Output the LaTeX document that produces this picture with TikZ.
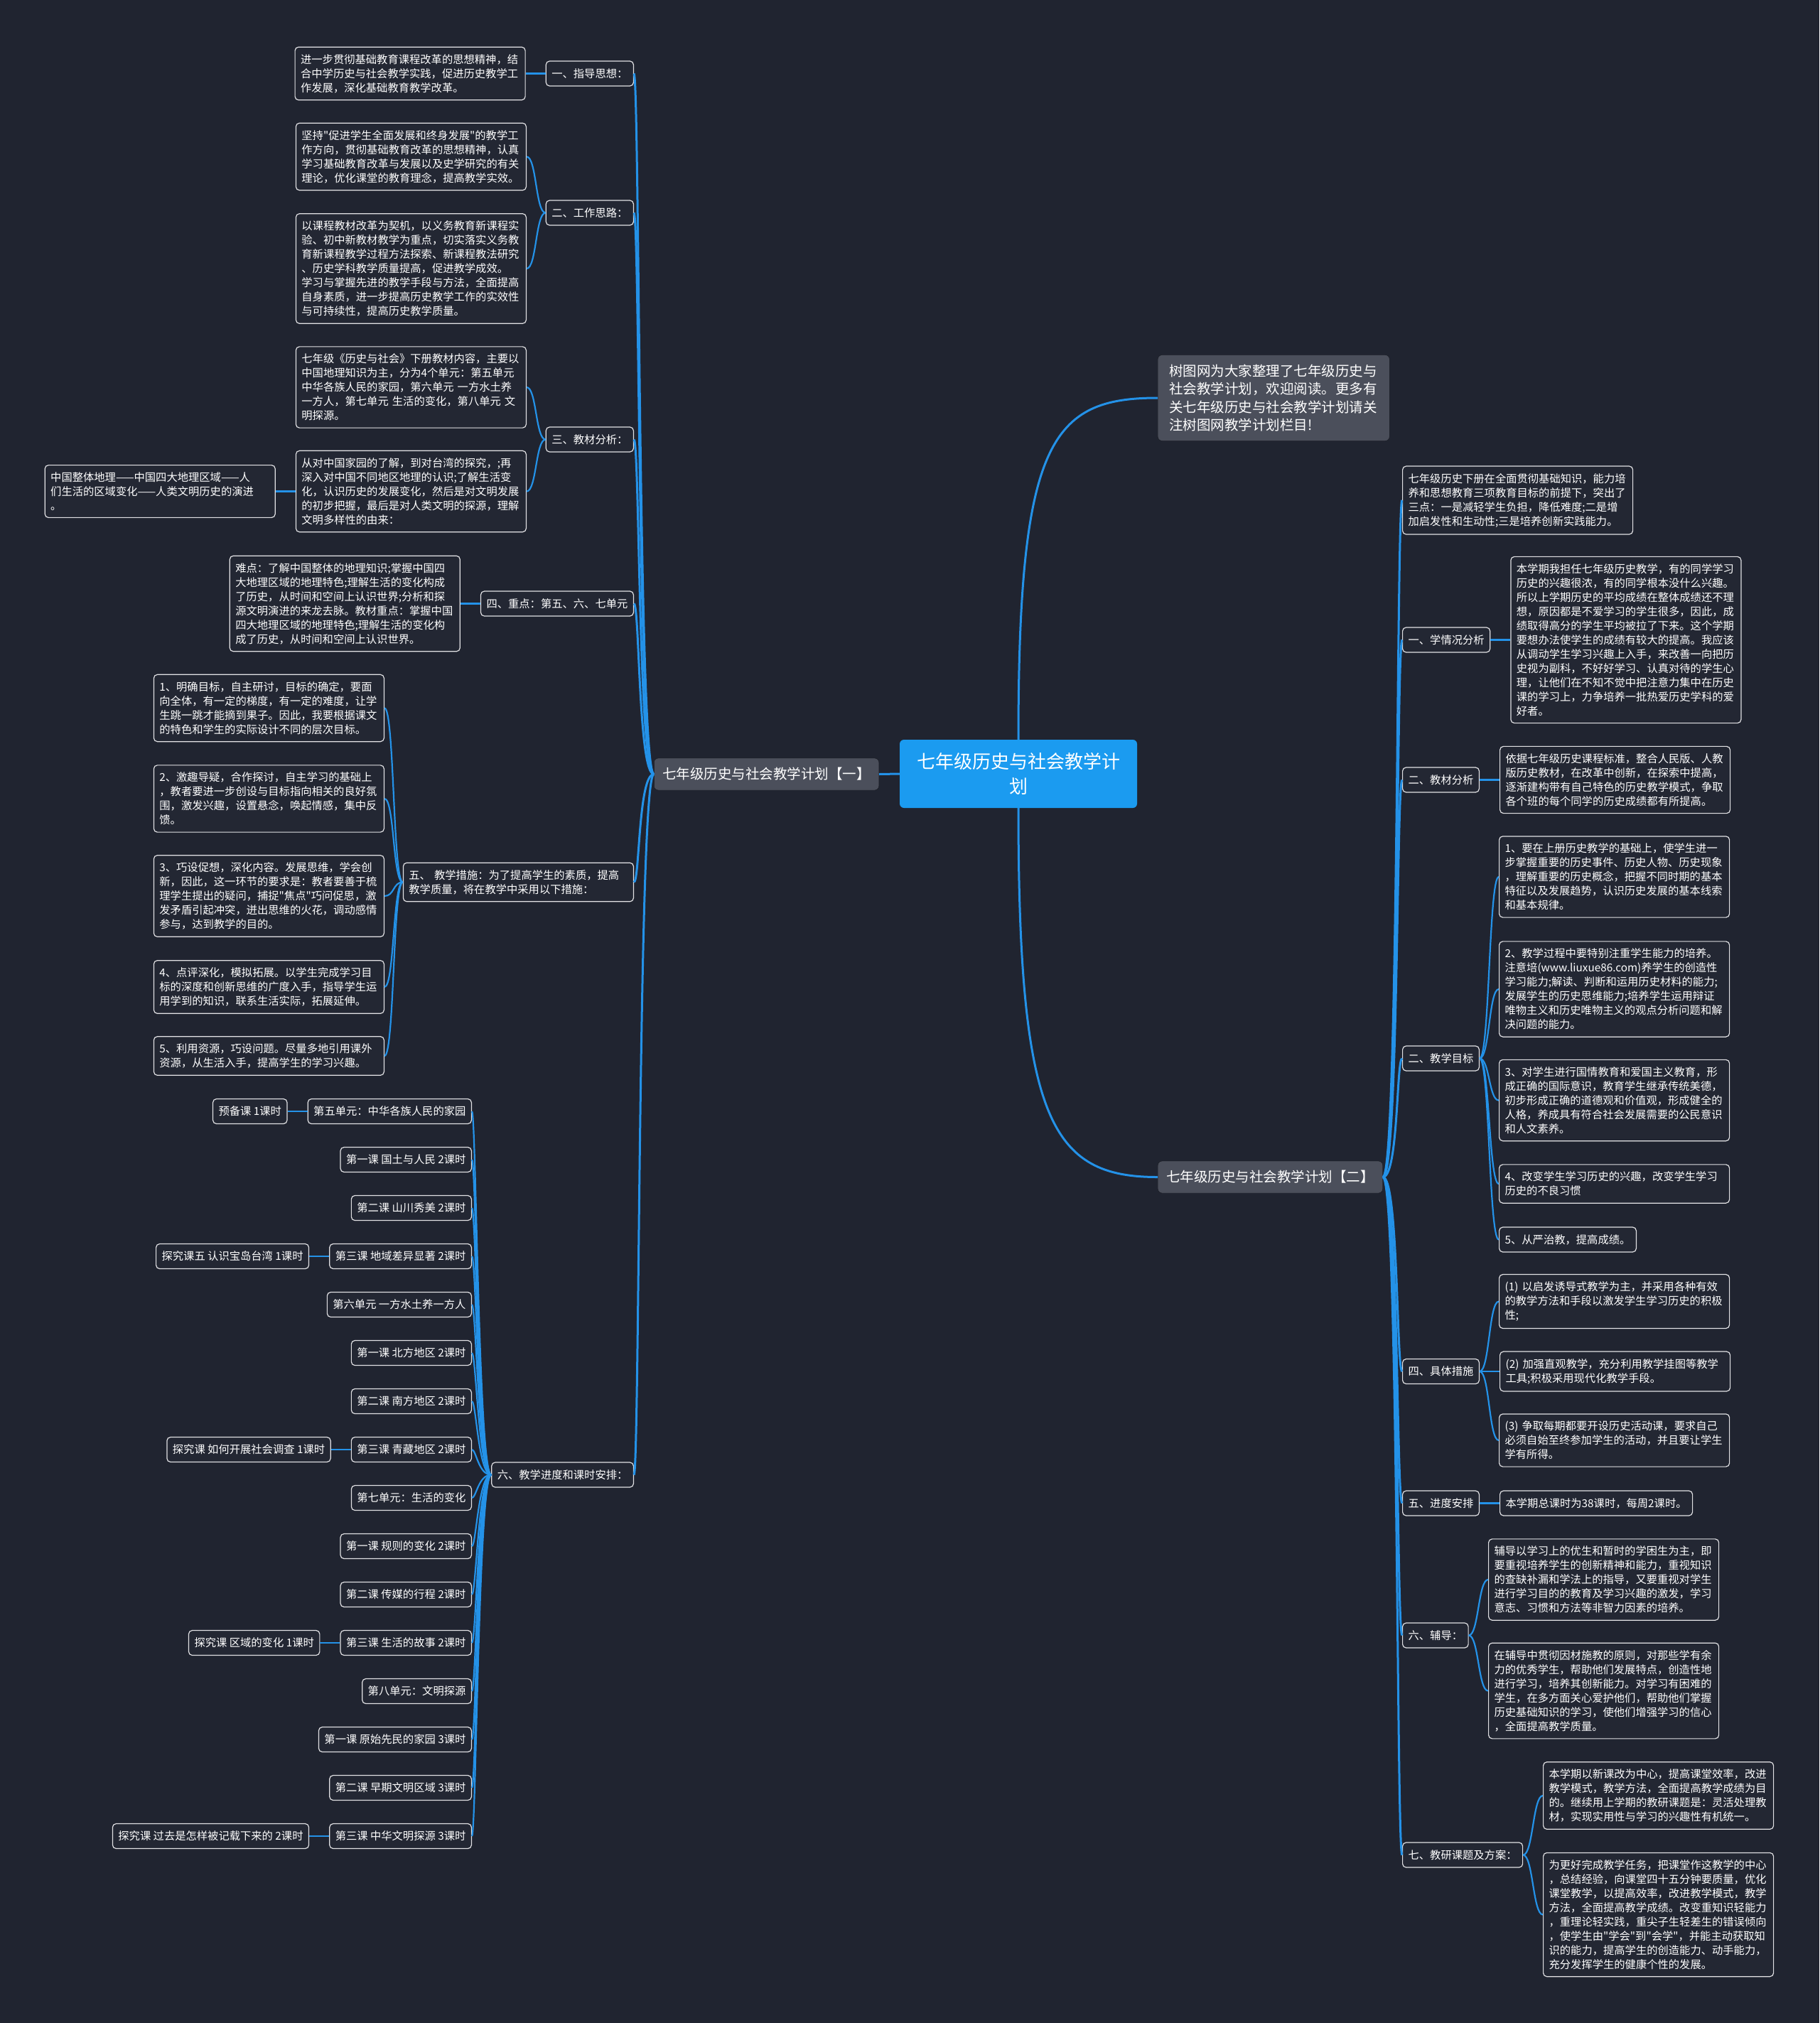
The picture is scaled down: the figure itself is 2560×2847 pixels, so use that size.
\documentclass[tikz,border=0pt]{standalone}
\usepackage{fontspec}
\setmainfont{Noto Sans CJK SC}[Ligatures=TeXOff]
\usepackage{tikz}
\usetikzlibrary{positioning}

\definecolor{bgnavy}{RGB}{32,36,48}
\definecolor{linkblue}{RGB}{36,146,232}
\definecolor{rootblue}{RGB}{27,155,240}
\definecolor{boxfill}{RGB}{35,39,51}
\definecolor{boxline}{RGB}{225,225,228}
\definecolor{branchgray}{RGB}{75,79,91}
\definecolor{branchline}{RGB}{22,24,30}

\newcommand{\rootfont}{\fontsize{26}{35}\selectfont}
\newcommand{\branchfont}{\fontsize{19.5}{25.6}\selectfont}
\newcommand{\leaffont}{\fontsize{15.3}{20}\selectfont}

\begin{document}
\begin{tikzpicture}[x=1pt, y=-1pt, node distance=28pt, every node/.style={text=white}]

\tikzstyle{root} = [rectangle, rounded corners=6pt, fill=rootblue, font=\rootfont, align=center, minimum width=334pt, minimum height=96pt]
\tikzstyle{branch} = [rectangle, rounded corners=6pt, draw=branchline, fill=branchgray, font=\branchfont, inner xsep=12pt, minimum height=45pt]
\tikzstyle{note} = [branch, align=left, text width=294pt, inner xsep=16pt, inner ysep=13pt]
\tikzstyle{topic} = [rectangle, rounded corners=5pt, draw=boxline, line width=1.2pt, fill=boxfill, font=\leaffont, inner xsep=8pt, inner ysep=10pt, minimum height=35pt]
\tikzstyle{leaf} = [topic, align=left, text width=308pt]
\tikzstyle{trunk} = [draw=linkblue, line width=3pt]
\tikzstyle{twig} = [draw=linkblue, line width=2.2pt]

% Canvas
\fill[bgnavy] (0,0) rectangle (2560,2847);
\useasboundingbox (0,0) rectangle (2560,2847);

% Centre
\node[root] (plan) at (1433,1089) {七年级历史与社会教学计\\划};
\node[note, anchor=west] (intro) at (1629,560) {树图网为大家整理了七年级历史与\\社会教学计划，欢迎阅读。更多有\\关七年级历史与社会教学计划请关\\注树图网教学计划栏目!};
\node[branch, anchor=east] (planA) at (1237,1089.5) {七年级历史与社会教学计划【一】};
\node[branch, anchor=west] (planB) at (1629,1656.5) {七年级历史与社会教学计划【二】};

% Plan one: topics
\node[topic, anchor=east] (guide) at (892,103.5) {一、指导思想：};
\node[topic, anchor=east] (idea) at (892,299.5) {二、工作思路：};
\node[topic, anchor=east] (book) at (892,618.5) {三、教材分析：};
\node[topic, anchor=east] (focus) at (892,849.5) {四、重点：第五、六、七单元};
\node[leaf, anchor=east] (measure) at (892,1241.5) {五、 教学措施：为了提高学生的素质，提高\\教学质量，将在教学中采用以下措施：};
\node[topic, anchor=east] (sched) at (892,2075.5) {六、教学进度和课时安排：};

% Plan one: texts
\node[leaf, left=of guide] (guideTxt) {进一步贯彻基础教育课程改革的思想精神，结\\合中学历史与社会教学实践，促进历史教学工\\作发展，深化基础教育教学改革。};
\node[leaf, anchor=east] (ideaA) at (741,220.5) {坚持"促进学生全面发展和终身发展"的教学工\\作方向，贯彻基础教育改革的思想精神，认真\\学习基础教育改革与发展以及史学研究的有关\\理论，优化课堂的教育理念，提高教学实效。};
\node[leaf, anchor=east] (ideaB) at (741,378) {以课程教材改革为契机，以义务教育新课程实\\验、初中新教材教学为重点，切实落实义务教\\育新课程教学过程方法探索、新课程教法研究\\、历史学科教学质量提高，促进教学成效。\\学习与掌握先进的教学手段与方法，全面提高\\自身素质，进一步提高历史教学工作的实效性\\与可持续性，提高历史教学质量。};
\node[leaf, anchor=east] (bookA) at (741,545) {七年级《历史与社会》下册教材内容，主要以\\中国地理知识为主，分为4个单元：第五单元\\中华各族人民的家园，第六单元 一方水土养\\一方人，第七单元 生活的变化，第八单元 文\\明探源。};
\node[leaf, anchor=east] (bookB) at (741,691.5) {从对中国家园的了解，到对台湾的探究，;再\\深入对中国不同地区地理的认识;了解生活变\\化，认识历史的发展变化，然后是对文明发展\\的初步把握，最后是对人类文明的探源，理解\\文明多样性的由来：};
\node[leaf, left=of bookB] (bookC) {中国整体地理——中国四大地理区域——人\\们生活的区域变化——人类文明历史的演进\\。};
\node[leaf, left=of focus] (focusTxt) {难点：了解中国整体的地理知识;掌握中国四\\大地理区域的地理特色;理解生活的变化构成\\了历史，从时间和空间上认识世界;分析和探\\源文明演进的来龙去脉。教材重点：掌握中国\\四大地理区域的地理特色;理解生活的变化构\\成了历史，从时间和空间上认识世界。};
\node[leaf, anchor=east] (measA) at (541,996.5) {1、明确目标，自主研讨，目标的确定，要面\\向全体，有一定的梯度，有一定的难度，让学\\生跳一跳才能摘到果子。因此，我要根据课文\\的特色和学生的实际设计不同的层次目标。};
\node[leaf, anchor=east] (measB) at (541,1124) {2、激趣导疑，合作探讨，自主学习的基础上\\，教者要进一步创设与目标指向相关的良好氛\\围，激发兴趣，设置悬念，唤起情感，集中反\\馈。};
\node[leaf, anchor=east] (measC) at (541,1261) {3、巧设促想，深化内容。发展思维，学会创\\新，因此，这一环节的要求是：教者要善于梳\\理学生提出的疑问，捕捉"焦点"巧问促思，激\\发矛盾引起冲突，迸出思维的火花，调动感情\\参与，达到教学的目的。};
\node[leaf, anchor=east] (measD) at (541,1389) {4、点评深化，模拟拓展。以学生完成学习目\\标的深度和创新思维的广度入手，指导学生运\\用学到的知识，联系生活实际，拓展延伸。};
\node[leaf, anchor=east] (measE) at (541,1486) {5、利用资源，巧设问题。尽量多地引用课外\\资源，从生活入手，提高学生的学习兴趣。};

% Plan one: schedule
\node[topic, anchor=east] (u5) at (664,1564) {第五单元：中华各族人民的家园};
\node[topic, anchor=east] (u5a) at (664,1632) {第一课 国土与人民 2课时};
\node[topic, anchor=east] (u5b) at (664,1700) {第二课 山川秀美 2课时};
\node[topic, anchor=east] (u5c) at (664,1768) {第三课 地域差异显著 2课时};
\node[topic, anchor=east] (u6) at (664,1836) {第六单元 一方水土养一方人};
\node[topic, anchor=east] (u6a) at (664,1904) {第一课 北方地区 2课时};
\node[topic, anchor=east] (u6b) at (664,1972) {第二课 南方地区 2课时};
\node[topic, anchor=east] (u6c) at (664,2040) {第三课 青藏地区 2课时};
\node[topic, anchor=east] (u7) at (664,2108) {第七单元：生活的变化};
\node[topic, anchor=east] (u7a) at (664,2176) {第一课 规则的变化 2课时};
\node[topic, anchor=east] (u7b) at (664,2244) {第二课 传媒的行程 2课时};
\node[topic, anchor=east] (u7c) at (664,2312) {第三课 生活的故事 2课时};
\node[topic, anchor=east] (u8) at (664,2380) {第八单元：文明探源};
\node[topic, anchor=east] (u8a) at (664,2448) {第一课 原始先民的家园 3课时};
\node[topic, anchor=east] (u8b) at (664,2516) {第二课 早期文明区域 3课时};
\node[topic, anchor=east] (u8c) at (664,2584) {第三课 中华文明探源 3课时};
\node[topic, left=of u5] (u5x) {预备课 1课时};
\node[topic, left=of u5c] (u5cx) {探究课五 认识宝岛台湾 1课时};
\node[topic, left=of u6c] (u6cx) {探究课 如何开展社会调查 1课时};
\node[topic, left=of u7c] (u7cx) {探究课 区域的变化 1课时};
\node[topic, left=of u8c] (u8cx) {探究课 过去是怎样被记载下来的 2课时};

% Plan two: topics
\node[leaf, anchor=west] (sum) at (1973,704) {七年级历史下册在全面贯彻基础知识，能力培\\养和思想教育三项教育目标的前提下，突出了\\三点：一是减轻学生负担，降低难度;二是增\\加启发性和生动性;三是培养创新实践能力。};
\node[topic, anchor=west] (stud) at (1973,900.5) {一、学情况分析};
\node[topic, anchor=west] (mat) at (1973,1097.5) {二、教材分析};
\node[topic, anchor=west] (goal) at (1973,1489.5) {二、教学目标};
\node[topic, anchor=west] (act) at (1973,1930) {四、具体措施};
\node[topic, anchor=west] (pace) at (1973,2115.5) {五、进度安排};
\node[topic, anchor=west] (tutor) at (1973,2301.5) {六、辅导：};
\node[topic, anchor=west] (res) at (1973,2610.5) {七、教研课题及方案：};

% Plan two: texts
\node[leaf, right=of stud] (studTxt) {本学期我担任七年级历史教学，有的同学学习\\历史的兴趣很浓，有的同学根本没什么兴趣。\\所以上学期历史的平均成绩在整体成绩还不理\\想，原因都是不爱学习的学生很多，因此，成\\绩取得高分的学生平均被拉了下来。这个学期\\要想办法使学生的成绩有较大的提高。我应该\\从调动学生学习兴趣上入手，来改善一向把历\\史视为副科，不好好学习、认真对待的学生心\\理，让他们在不知不觉中把注意力集中在历史\\课的学习上，力争培养一批热爱历史学科的爱\\好者。};
\node[leaf, right=of mat] (matTxt) {依据七年级历史课程标准，整合人民版、人教\\版历史教材，在改革中创新，在探索中提高，\\逐渐建构带有自己特色的历史教学模式，争取\\各个班的每个同学的历史成绩都有所提高。};
\node[leaf, anchor=west] (goalA) at (2109,1234) {1、要在上册历史教学的基础上，使学生进一\\步掌握重要的历史事件、历史人物、历史现象\\，理解重要的历史概念，把握不同时期的基本\\特征以及发展趋势，认识历史发展的基本线索\\和基本规律。};
\node[leaf, anchor=west] (goalB) at (2109,1392) {2、教学过程中要特别注重学生能力的培养。\\注意培(www.liuxue86.com)养学生的创造性\\学习能力;解读、判断和运用历史材料的能力;\\发展学生的历史思维能力;培养学生运用辩证\\唯物主义和历史唯物主义的观点分析问题和解\\决问题的能力。};
\node[leaf, anchor=west] (goalC) at (2109,1548.5) {3、对学生进行国情教育和爱国主义教育，形\\成正确的国际意识，教育学生继承传统美德，\\初步形成正确的道德观和价值观，形成健全的\\人格，养成具有符合社会发展需要的公民意识\\和人文素养。};
\node[leaf, anchor=west] (goalD) at (2109,1666) {4、改变学生学习历史的兴趣，改变学生学习\\历史的不良习惯};
\node[topic, anchor=west] (goalE) at (2109,1744.5) {5、从严治教，提高成绩。};
\node[leaf, anchor=west] (actA) at (2109,1831.5) {(1) 以启发诱导式教学为主，并采用各种有效\\的教学方法和手段以激发学生学习历史的积极\\性;};
\node[leaf, right=of act] (actB) {(2) 加强直观教学，充分利用教学挂图等教学\\工具;积极采用现代化教学手段。};
\node[leaf, anchor=west] (actC) at (2109,2027) {(3) 争取每期都要开设历史活动课，要求自己\\必须自始至终参加学生的活动，并且要让学生\\学有所得。};
\node[topic, right=of pace] (paceTxt) {本学期总课时为38课时，每周2课时。};
\node[leaf, anchor=west] (tutorA) at (2094,2223) {辅导以学习上的优生和暂时的学困生为主，即\\要重视培养学生的创新精神和能力，重视知识\\的查缺补漏和学法上的指导，又要重视对学生\\进行学习目的的教育及学习兴趣的激发，学习\\意志、习惯和方法等非智力因素的培养。};
\node[leaf, anchor=west] (tutorB) at (2094,2379.5) {在辅导中贯彻因材施教的原则，对那些学有余\\力的优秀学生，帮助他们发展特点，创造性地\\进行学习，培养其创新能力。对学习有困难的\\学生，在多方面关心爱护他们，帮助他们掌握\\历史基础知识的学习，使他们增强学习的信心\\，全面提高教学质量。};
\node[leaf, anchor=west] (resA) at (2171,2527) {本学期以新课改为中心，提高课堂效率，改进\\教学模式，教学方法，全面提高教学成绩为目\\的。继续用上学期的教研课题是：灵活处理教\\材，实现实用性与学习的兴趣性有机统一。};
\node[leaf, anchor=west] (resB) at (2171,2694.5) {为更好完成教学任务，把课堂作这教学的中心\\，总结经验，向课堂四十五分钟要质量，优化\\课堂教学，以提高效率，改进教学模式，教学\\方法，全面提高教学成绩。改变重知识轻能力\\，重理论轻实践，重尖子生轻差生的错误倾向\\，使学生由"学会"到"会学"，并能主动获取知\\识的能力，提高学生的创造能力、动手能力，\\充分发挥学生的健康个性的发展。};

% Links from the centre
\draw[trunk] (plan.west) -- (planA.east);
\draw[trunk] (plan.north) .. controls +(0,-420) and +(-150,0) .. (intro.west);
\draw[trunk] (plan.south) .. controls +(0,440) and +(-150,0) .. (planB.west);

% Links, plan one
\draw[trunk] (planA.west) .. controls +(-22,0) and +(8,0) .. (guide.east);
\draw[trunk] (planA.west) .. controls +(-22,0) and +(8,0) .. (idea.east);
\draw[trunk] (planA.west) .. controls +(-22,0) and +(8,0) .. (book.east);
\draw[trunk] (planA.west) .. controls +(-22,0) and +(8,0) .. (focus.east);
\draw[trunk] (planA.west) .. controls +(-22,0) and +(8,0) .. (measure.east);
\draw[trunk] (planA.west) .. controls +(-22,0) and +(8,0) .. (sched.east);
\draw[twig] (guide.west) -- (guideTxt.east);
\draw[twig] (idea.west) .. controls +(-14,0) and +(14,0) .. (ideaA.east);
\draw[twig] (idea.west) .. controls +(-14,0) and +(14,0) .. (ideaB.east);
\draw[twig] (book.west) .. controls +(-14,0) and +(14,0) .. (bookA.east);
\draw[twig] (book.west) .. controls +(-14,0) and +(14,0) .. (bookB.east);
\draw[twig] (bookB.west) -- (bookC.east);
\draw[twig] (focus.west) -- (focusTxt.east);
\draw[twig] (measure.west) .. controls +(-14,0) and +(14,0) .. (measA.east);
\draw[twig] (measure.west) .. controls +(-14,0) and +(14,0) .. (measB.east);
\draw[twig] (measure.west) .. controls +(-14,0) and +(14,0) .. (measC.east);
\draw[twig] (measure.west) .. controls +(-14,0) and +(14,0) .. (measD.east);
\draw[twig] (measure.west) .. controls +(-14,0) and +(14,0) .. (measE.east);
\draw[twig] (sched.west) .. controls +(-18,0) and +(6,0) .. (u5.east);
\draw[twig] (sched.west) .. controls +(-18,0) and +(6,0) .. (u5a.east);
\draw[twig] (sched.west) .. controls +(-18,0) and +(6,0) .. (u5b.east);
\draw[twig] (sched.west) .. controls +(-18,0) and +(6,0) .. (u5c.east);
\draw[twig] (sched.west) .. controls +(-18,0) and +(6,0) .. (u6.east);
\draw[twig] (sched.west) .. controls +(-18,0) and +(6,0) .. (u6a.east);
\draw[twig] (sched.west) .. controls +(-18,0) and +(6,0) .. (u6b.east);
\draw[twig] (sched.west) .. controls +(-18,0) and +(6,0) .. (u6c.east);
\draw[twig] (sched.west) .. controls +(-18,0) and +(6,0) .. (u7.east);
\draw[twig] (sched.west) .. controls +(-18,0) and +(6,0) .. (u7a.east);
\draw[twig] (sched.west) .. controls +(-18,0) and +(6,0) .. (u7b.east);
\draw[twig] (sched.west) .. controls +(-18,0) and +(6,0) .. (u7c.east);
\draw[twig] (sched.west) .. controls +(-18,0) and +(6,0) .. (u8.east);
\draw[twig] (sched.west) .. controls +(-18,0) and +(6,0) .. (u8a.east);
\draw[twig] (sched.west) .. controls +(-18,0) and +(6,0) .. (u8b.east);
\draw[twig] (sched.west) .. controls +(-18,0) and +(6,0) .. (u8c.east);
\draw[twig] (u5.west) -- (u5x.east);
\draw[twig] (u5c.west) -- (u5cx.east);
\draw[twig] (u6c.west) -- (u6cx.east);
\draw[twig] (u7c.west) -- (u7cx.east);
\draw[twig] (u8c.west) -- (u8cx.east);

% Links, plan two
\draw[trunk] (planB.east) .. controls +(22,0) and +(-8,0) .. (sum.west);
\draw[trunk] (planB.east) .. controls +(22,0) and +(-8,0) .. (stud.west);
\draw[trunk] (planB.east) .. controls +(22,0) and +(-8,0) .. (mat.west);
\draw[trunk] (planB.east) .. controls +(22,0) and +(-8,0) .. (goal.west);
\draw[trunk] (planB.east) .. controls +(22,0) and +(-8,0) .. (act.west);
\draw[trunk] (planB.east) .. controls +(22,0) and +(-8,0) .. (pace.west);
\draw[trunk] (planB.east) .. controls +(22,0) and +(-8,0) .. (tutor.west);
\draw[trunk] (planB.east) .. controls +(22,0) and +(-8,0) .. (res.west);
\draw[twig] (stud.east) -- (studTxt.west);
\draw[twig] (mat.east) -- (matTxt.west);
\draw[twig] (goal.east) .. controls +(14,0) and +(-14,0) .. (goalA.west);
\draw[twig] (goal.east) .. controls +(14,0) and +(-14,0) .. (goalB.west);
\draw[twig] (goal.east) .. controls +(14,0) and +(-14,0) .. (goalC.west);
\draw[twig] (goal.east) .. controls +(14,0) and +(-14,0) .. (goalD.west);
\draw[twig] (goal.east) .. controls +(14,0) and +(-14,0) .. (goalE.west);
\draw[twig] (act.east) .. controls +(14,0) and +(-14,0) .. (actA.west);
\draw[twig] (act.east) -- (actB.west);
\draw[twig] (act.east) .. controls +(14,0) and +(-14,0) .. (actC.west);
\draw[twig] (pace.east) -- (paceTxt.west);
\draw[twig] (tutor.east) .. controls +(14,0) and +(-14,0) .. (tutorA.west);
\draw[twig] (tutor.east) .. controls +(14,0) and +(-14,0) .. (tutorB.west);
\draw[twig] (res.east) .. controls +(14,0) and +(-14,0) .. (resA.west);
\draw[twig] (res.east) .. controls +(14,0) and +(-14,0) .. (resB.west);

\end{tikzpicture}
\end{document}
